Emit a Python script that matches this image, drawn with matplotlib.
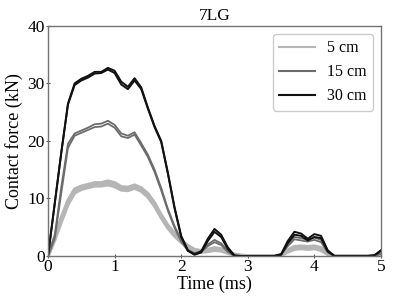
import numpy as np
import matplotlib
matplotlib.use('Agg')
import matplotlib.pyplot as plt
from matplotlib.lines import Line2D

plt.rcParams['font.family'] = ['Liberation Serif', 'DejaVu Serif']

# Time axis (ms)
time_ms = np.round(np.arange(0, 5.01, 0.1), 2)

# Contact force (kN), two traces per drop height
f30_a = [0, 9, 18, 26.5, 30.0, 30.8, 31.3, 32.0, 32.0, 32.7,
         32.2, 30.3, 29.4, 30.9, 29.3, 25.8, 22.6, 20.0, 14.5, 8.5,
         3.5, 1.0, 0.3, 0.8, 3.0, 4.7, 3.7, 1.5, 0.1, 0,
         0, 0, 0, 0, 0, 0.3, 2.6, 4.2, 3.9, 3.0,
         3.8, 3.5, 1.0, 0, 0, 0, 0, 0, 0, 0.1, 1.0]
f30_b = [0, 9, 18, 26.3, 29.7, 30.5, 31.0, 31.7, 31.8, 32.4,
         31.8, 29.8, 29.0, 30.5, 29.0, 25.6, 22.4, 19.8, 14.3, 8.3,
         3.3, 0.9, 0.2, 0.6, 2.6, 4.2, 3.3, 1.2, 0, 0,
         0, 0, 0, 0, 0, 0.2, 2.2, 3.7, 3.5, 2.7,
         3.3, 3.1, 0.8, 0, 0, 0, 0, 0, 0, 0.1, 0.9]
f15_a = [0, 3.5, 12.0, 19.5, 21.3, 21.8, 22.3, 22.9, 23.0, 23.5,
         22.8, 21.3, 20.9, 21.5, 19.6, 17.6, 15.0, 11.8, 8.2, 5.2,
         2.8, 1.0, 0.5, 0.8, 2.0, 2.8, 2.2, 0.9, 0.1, 0,
         0, 0, 0, 0, 0, 0.3, 2.0, 3.3, 3.1, 2.8,
         3.2, 2.8, 0.8, 0, 0, 0, 0, 0, 0, 0, 0.5]
f15_b = [0, 3.0, 11.0, 18.8, 20.9, 21.4, 21.9, 22.4, 22.5, 23.0,
         22.3, 20.8, 20.5, 21.1, 19.2, 17.2, 14.6, 11.4, 7.9, 4.9,
         2.5, 0.9, 0.4, 0.7, 1.7, 2.4, 1.9, 0.7, 0, 0,
         0, 0, 0, 0, 0, 0.2, 1.7, 2.9, 2.7, 2.5,
         2.8, 2.4, 0.6, 0, 0, 0, 0, 0, 0, 0, 0.4]
f5_a = [0, 3.2, 6.6, 9.6, 11.6, 12.1, 12.4, 12.7, 12.7, 13.0,
        12.7, 12.0, 11.9, 12.3, 11.8, 10.8, 9.2, 7.1, 5.3, 3.9,
        2.7, 1.8, 1.1, 0.9, 1.1, 1.4, 1.2, 0.7, 0.3, 0.1,
        0, 0, 0, 0, 0, 0.2, 1.0, 1.6, 1.7, 1.6,
        1.7, 1.4, 0.5, 0, 0, 0, 0, 0, 0, 0, 0.2]
f5_b = [0, 2.8, 6.0, 9.0, 11.0, 11.6, 11.9, 12.2, 12.2, 12.4,
        12.1, 11.5, 11.4, 11.8, 11.3, 10.3, 8.7, 6.7, 4.9, 3.5,
        2.4, 1.5, 0.9, 0.7, 0.8, 1.0, 0.9, 0.5, 0.2, 0,
        0, 0, 0, 0, 0, 0.1, 0.7, 1.2, 1.3, 1.2,
        1.3, 1.0, 0.3, 0, 0, 0, 0, 0, 0, 0, 0.1]

labels = ['5 cm', '15 cm', '30 cm']
colors = ['#b5b5b5', '#6c6c6c', '#111111']

fig = plt.figure(figsize=(3.95, 3.04), dpi=100)
ax = fig.add_axes([0.1215, 0.158, 0.843, 0.757])

ax.plot(time_ms, f5_a, color=colors[0], lw=2.6, solid_joinstyle='round')
ax.plot(time_ms, f5_b, color=colors[0], lw=2.6, solid_joinstyle='round')
ax.plot(time_ms, f15_a, color=colors[1], lw=1.3, solid_joinstyle='round')
ax.plot(time_ms, f15_b, color=colors[1], lw=1.3, solid_joinstyle='round')
ax.plot(time_ms, f30_a, color=colors[2], lw=1.4, solid_joinstyle='round')
ax.plot(time_ms, f30_b, color=colors[2], lw=1.4, solid_joinstyle='round')

ax.set_xlim(0, 5)
ax.set_ylim(0, 40)
ax.set_xticks(range(0, 6))
ax.set_yticks(range(0, 41, 10))
ax.tick_params(direction='inout', length=3, width=0.8, labelsize=12.5, pad=1,
               color='0.35')
for sp in ax.spines.values():
    sp.set_color('0.45')
    sp.set_linewidth(1.0)

ax.set_xlabel('Time (ms)', fontsize=13, labelpad=0)
ax.set_ylabel('Contact force (kN)', fontsize=13, labelpad=3)
ax.set_title('7LG', fontsize=12.5, pad=4)

handles = [Line2D([], [], color=c, lw=1.5) for c in colors]
ax.legend(handles, labels, loc='upper right', fontsize=11.5, handlelength=2.25,
          frameon=True, edgecolor='0.8', framealpha=1, borderpad=0.4,
          labelspacing=0.5, handletextpad=0.75)

fig.savefig('out.png', dpi=100)
